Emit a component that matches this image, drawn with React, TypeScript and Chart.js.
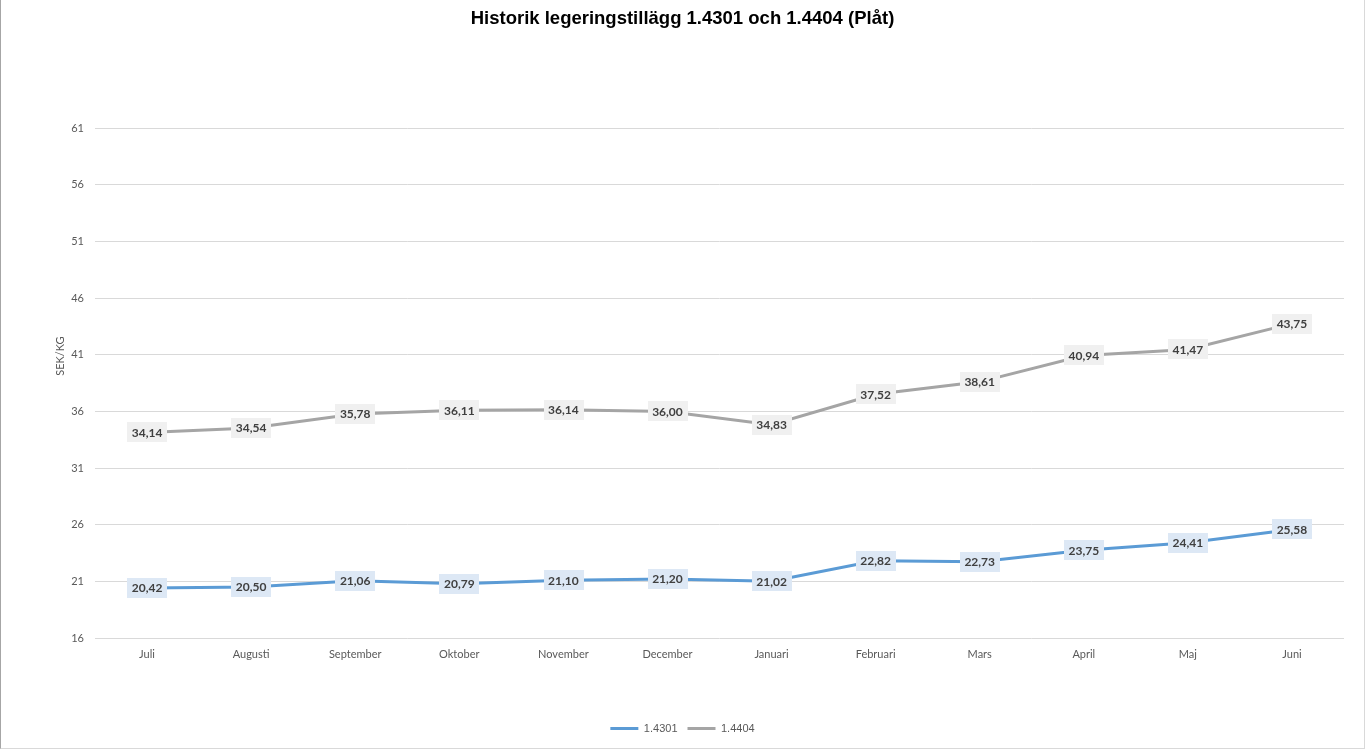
import React, { useEffect, useRef } from "react";
import { Chart, registerables } from "chart.js";

Chart.register(...registerables);

const months = ["Juli", "Augusti", "September", "Oktober", "November", "December", "Januari", "Februari", "Mars", "April", "Maj", "Juni"];
const series4301 = [20.42, 20.5, 21.06, 20.79, 21.1, 21.2, 21.02, 22.82, 22.73, 23.75, 24.41, 25.58];
const series4404 = [34.14, 34.54, 35.78, 36.11, 36.14, 36.0, 34.83, 37.52, 38.61, 40.94, 41.47, 43.75];
const yMin = 16;
const yMax = 61;
const yStep = 5;
const yTitle = "SEK/KG";

const labelBg = ["#dde8f5", "#f0f0f0"];

const dataLabelPlugin = {
  id: "dataLabelBoxes",
  afterDatasetsDraw(chart: any) {
    const ctx = chart.ctx;
    ctx.save();
    ctx.font = "bold 12px Lato";
    ctx.textAlign = "center";
    ctx.textBaseline = "middle";
    chart.data.datasets.forEach((ds: any, di: number) => {
      const meta = chart.getDatasetMeta(di);
      meta.data.forEach((pt: any, i: number) => {
        const v = ds.data[i] as number;
        const txt = v.toFixed(2).replace(".", ",");
        const w = ctx.measureText(txt).width + 9;
        const h = 20;
        ctx.fillStyle = labelBg[di];
        ctx.fillRect(Math.round(pt.x - w / 2), Math.round(pt.y - h / 2), Math.round(w), h);
        ctx.fillStyle = "#404040";
        ctx.fillText(txt, pt.x, pt.y + 0.5);
      });
    });
    ctx.restore();
  },
};

const yTitlePlugin = {
  id: "yTitle",
  afterDraw(chart: any) {
    const ctx = chart.ctx;
    const area = chart.chartArea;
    ctx.save();
    ctx.font = "11px Lato";
    ctx.fillStyle = "#595959";
    ctx.textAlign = "center";
    ctx.textBaseline = "middle";
    ctx.translate(60, area.top + (area.bottom - area.top) * 0.447);
    ctx.rotate(-Math.PI / 2);
    ctx.fillText(yTitle, 0, 0);
    ctx.restore();
  },
};

export default function App() {
  const ref = useRef<HTMLCanvasElement | null>(null);
  useEffect(() => {
    if (!ref.current) return;
    const chart = new Chart(ref.current, {
      type: "line",
      data: {
        labels: months,
        datasets: [
          {
            label: "1.4301",
            data: series4301,
            borderColor: "#5b9bd5",
            backgroundColor: "#5b9bd5",
            borderWidth: 3,
            pointRadius: 0,
            tension: 0,
            borderCapStyle: "round",
          },
          {
            label: "1.4404",
            data: series4404,
            borderColor: "#a5a5a5",
            backgroundColor: "#a5a5a5",
            borderWidth: 3,
            pointRadius: 0,
            tension: 0,
            borderCapStyle: "round",
          },
        ],
      },
      options: {
        animation: false,
        responsive: false,
        layout: { padding: { left: 21, right: 21, top: 0, bottom: 5 } },
        plugins: {
          title: {
            display: true,
            text: "Historik legeringstillägg 1.4301 och 1.4404 (Plåt)",
            color: "#000000",
            font: { family: "Liberation Sans", size: 18.5, weight: "bold" },
            padding: { top: 8, bottom: 98 },
          },
          legend: {
            display: true,
            position: "bottom",
            labels: {
              usePointStyle: true,
              pointStyle: "line",
              pointStyleWidth: 28,
              boxHeight: 11,
              color: "#595959",
              font: { family: "Liberation Sans", size: 11 },
              padding: 10,
            },
          },
          tooltip: { enabled: false },
        },
        scales: {
          x: {
            offset: true,
            grid: { display: false, drawTicks: false, offset: true },
            border: { display: false },
            ticks: { color: "#595959", font: { family: "Lato", size: 11 }, padding: 10, maxRotation: 0 },
            afterFit: (s: any) => {
              s.height = 75;
            },
          },
          y: {
            min: yMin,
            max: yMax,
            grid: { color: "#d9d9d9", drawTicks: false, lineWidth: 1 },
            border: { display: false },
            ticks: { stepSize: yStep, color: "#595959", font: { family: "Lato", size: 11 }, padding: 11 },
            afterFit: (s: any) => {
              s.width = 74;
            },
          },
        },
      },
      plugins: [dataLabelPlugin, yTitlePlugin],
    } as any);
    return () => chart.destroy();
  }, []);
  return (
    <div style={{ position: "fixed", left: 0, top: 0, width: 1365, height: 749, background: "#fff" }}>
      <canvas ref={ref} width={1365} height={749} style={{ position: "absolute", left: 0, top: 0, width: 1365, height: 749 }} />
      <div
        style={{
          position: "absolute",
          left: 0,
          top: 0,
          width: 1365,
          height: 749,
          boxSizing: "border-box",
          borderLeft: "1px solid #a6a6a6",
          borderRight: "1px solid #d9d9d9",
          borderBottom: "1px solid #d9d9d9",
          pointerEvents: "none",
        }}
      />
    </div>
  );
}
